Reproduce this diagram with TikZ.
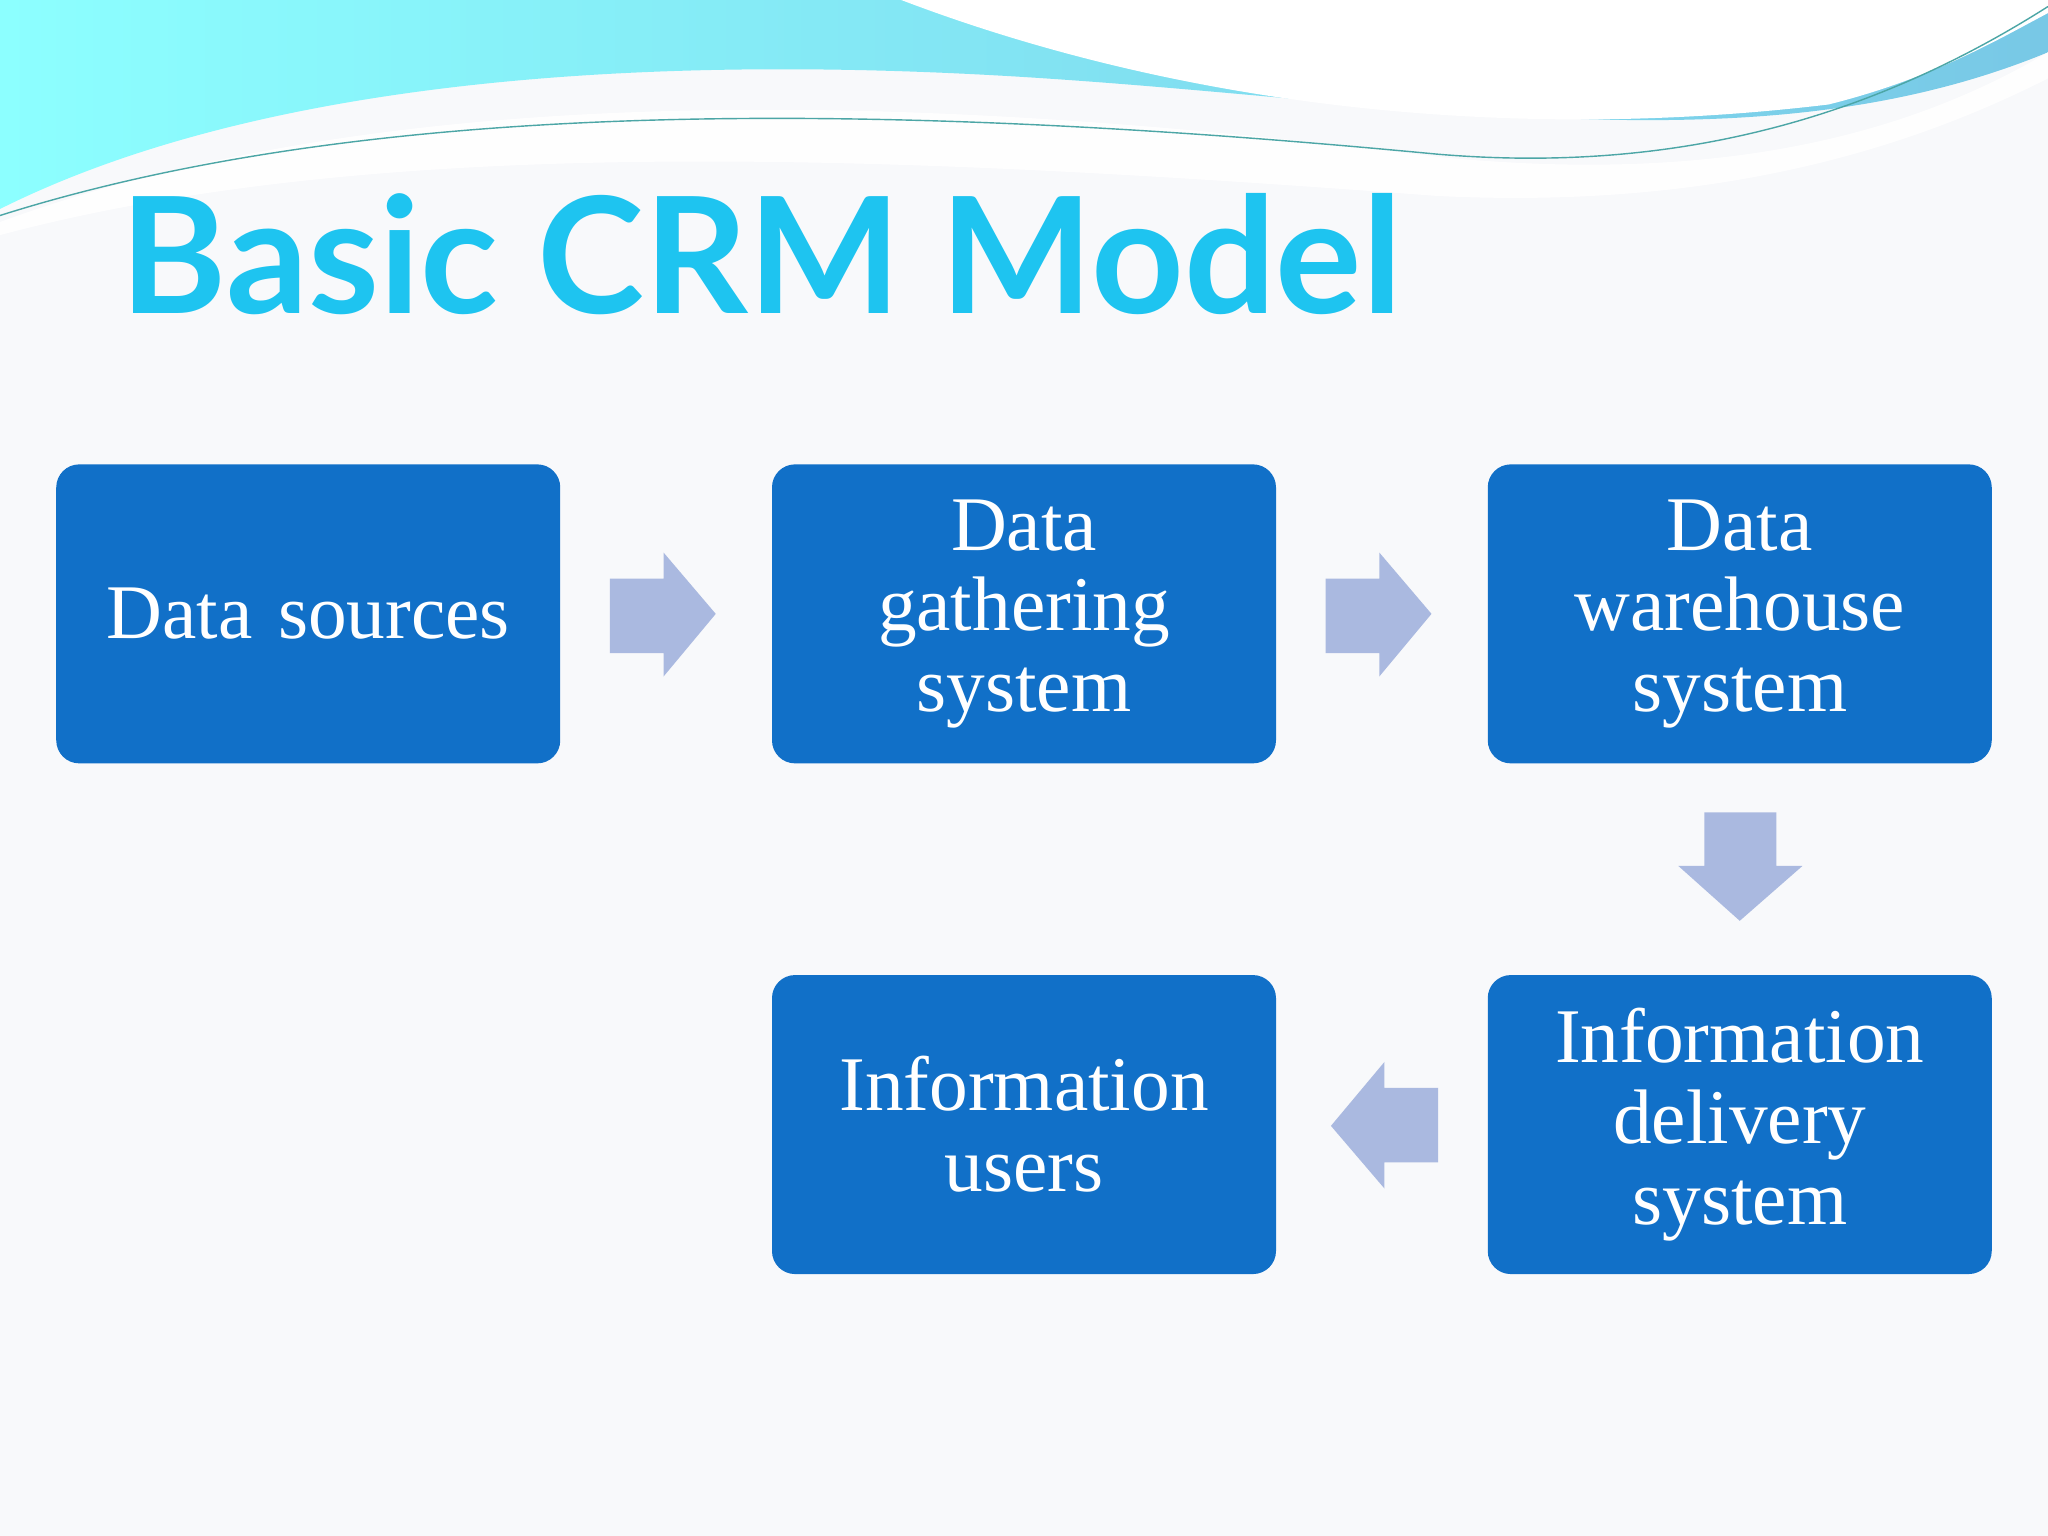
\documentclass[tikz,border=0pt]{standalone}
\usepackage{fontspec}
\setmainfont{Liberation Serif}
\newfontfamily\titlefont{Lato}
\usetikzlibrary{positioning}
\definecolor{boxblue}{RGB}{17,112,200}
\definecolor{arrowblue}{RGB}{170,185,224}
\definecolor{titlecyan}{RGB}{30,196,240}
\tikzset{
  crmbox/.style={fill=boxblue, rounded corners=0.23cm, minimum width=5.04cm, minimum height=2.99cm,
    text width=4.6cm, align=center, text=white, font=\fontsize{22}{23}\selectfont, inner sep=0pt},
  flow/.style={fill=arrowblue}
}
\begin{document}
\begin{tikzpicture}[x=0.01306cm, y=-0.01306cm]
  \useasboundingbox[fill={rgb,255:red,248;green,249;blue,251}] (0,0) rectangle (1568,1176);

  %%% Top swoosh
  \shade[left color=cyan!45, right color={rgb,255:red,120;green,200;blue,230}]
    (0,0) -- (0,160) .. controls (200,60) and (500,40) .. (800,60)
    .. controls (1100,80) and (1350,130) .. (1568,40) -- (1568,0) -- cycle;
  \fill[white] (690,0) .. controls (900,80) and (1150,110) .. (1400,80)
    .. controls (1480,60) and (1530,30) .. (1568,10) -- (1568,0) -- cycle;
  \fill[white,opacity=0.9] (0,170) .. controls (300,60) and (700,70) .. (1100,120)
    .. controls (1300,140) and (1450,110) .. (1568,40) -- (1568,60)
    .. controls (1450,120) and (1300,160) .. (1100,150) .. controls (700,120) and (300,100) .. (0,180) -- cycle;
  \draw[teal!70, thin] (0,165) .. controls (300,70) and (700,80) .. (1100,118) .. controls (1300,135) and (1450,80) .. (1568,5);

  %%% Title
  \node[anchor=base west, text=titlecyan, font=\titlefont\bfseries\fontsize{46}{50}\selectfont, inner sep=0pt]
    (title) at (92,240) {Basic CRM Model};

  %%% Boxes
  \node[crmbox] (sources)   at (236,470) {Data sources};
  \node[crmbox] (gathering) at (784,470) {Data\\gathering\\system};
  \node[crmbox] (warehouse) at (1332,470) {Data\\warehouse\\system};
  \node[crmbox] (delivery)  at (1332,861) {Information\\delivery\\system};
  \node[crmbox] (users)     at (784,861) {Information\\users};

  %%% Block arrows
  \fill[flow] (467,443) -- (508,443) -- (508,423) -- (548,470) -- (508,518) -- (508,500) -- (467,500) -- cycle;
  \fill[flow] (1015,443) -- (1056,443) -- (1056,423) -- (1096,470) -- (1056,518) -- (1056,500) -- (1015,500) -- cycle;
  \fill[flow] (1305,622) -- (1360,622) -- (1360,663) -- (1380,663) -- (1332,705) -- (1285,663) -- (1305,663) -- cycle;
  \fill[flow] (1101,833) -- (1060,833) -- (1060,813) -- (1019,862) -- (1060,910) -- (1060,890) -- (1101,890) -- cycle;
\end{tikzpicture}
\end{document}
